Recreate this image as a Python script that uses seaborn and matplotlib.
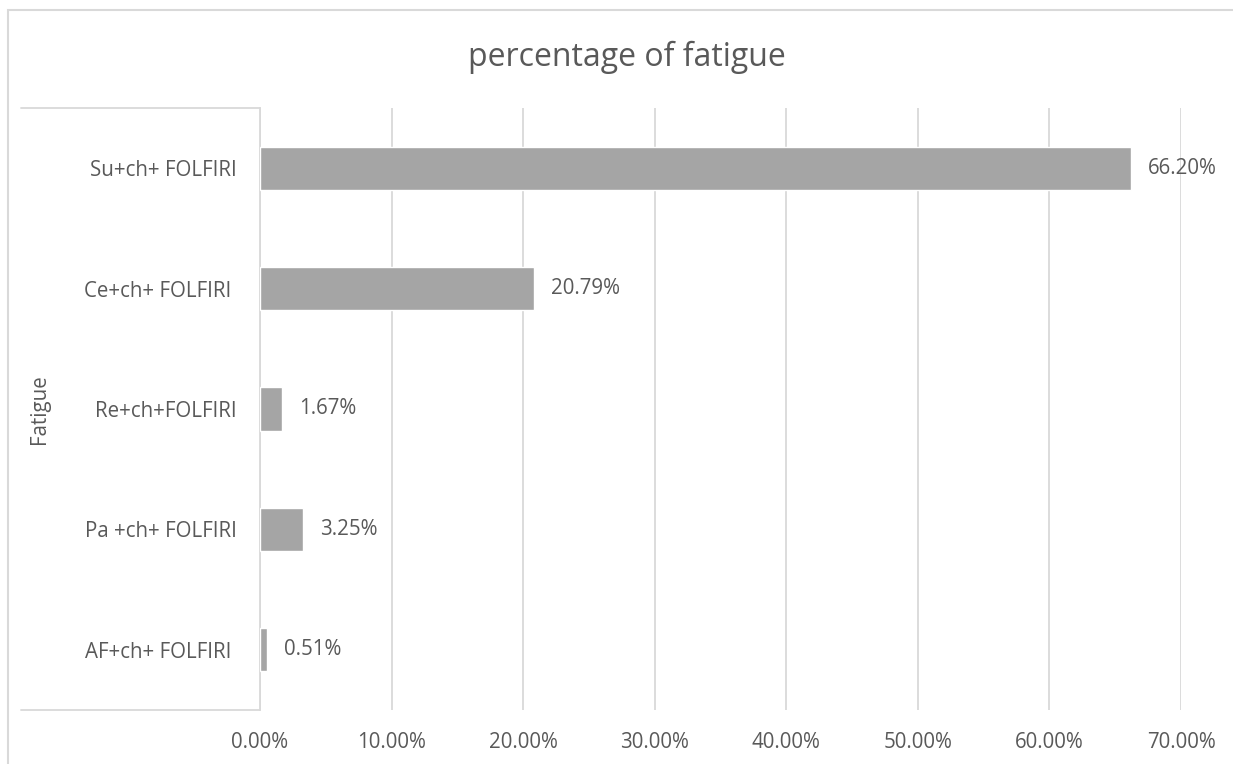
import matplotlib
matplotlib.use("Agg")
import matplotlib.pyplot as plt
from matplotlib.lines import Line2D
from matplotlib.patches import Rectangle
import seaborn as sns
import pandas as pd

# Chart data
regimens = ["Su+ch+ FOLFIRI", "Ce+ch+ FOLFIRI ", "Re+ch+FOLFIRI", "Pa +ch+ FOLFIRI", "AF+ch+ FOLFIRI "]
fatigue_pct = [66.20, 20.79, 1.67, 3.25, 0.51]
x_ticks = [0, 10, 20, 30, 40, 50, 60, 70]
x_tick_labels = ["0.00%", "10.00%", "20.00%", "30.00%", "40.00%", "50.00%", "60.00%", "70.00%"]

df = pd.DataFrame({"regimen": regimens, "pct": fatigue_pct})

sns.set_theme(style="white")
plt.rcParams["font.family"] = ["Open Sans", "DejaVu Sans"]

TEXT = "#595959"
GRID = "#D9D9D9"
BAR = "#A5A5A5"
FS = 14.8

W, H = 1233, 764
fig = plt.figure(figsize=(W / 100, H / 100), dpi=100)
ax_w = 1181 - 260
ax = fig.add_axes([260 / W, 1 - 710 / H, ax_w / W, (710 - 108) / H])

sns.barplot(data=df, x="pct", y="regimen", orient="h", color=BAR,
            saturation=1, width=0.36, ax=ax, zorder=3)

ax.set_xlim(0, 70)
ax.set_xticks(x_ticks)
ax.set_xticklabels(x_tick_labels)
ax.grid(axis="x", color=GRID, linewidth=1.3, zorder=0)
ax.tick_params(axis="x", length=0, pad=16, labelsize=FS, labelcolor=TEXT)
ax.tick_params(axis="y", length=0, pad=17, labelsize=FS, labelcolor=TEXT)
for side in ["top", "right", "bottom"]:
    ax.spines[side].set_visible(False)
ax.spines["left"].set_color(GRID)
ax.spines["left"].set_linewidth(1.3)

ax.set_xlabel("")
ax.set_ylabel("Fatigue", fontsize=FS, color=TEXT)
ax.yaxis.set_label_coords((50 - 260) / ax_w, 0.5)

# Value labels on bars
ax.bar_label(ax.containers[0], labels=[f"{v:.2f}%" for v in fatigue_pct],
             padding=12.5, fontsize=FS, color=TEXT)

# Title
fig.text(627 / W, 1 - 66 / H, "percentage of fatigue", ha="center", va="baseline",
         fontsize=23, color=TEXT)

# Category-axis box and chart border
fig.add_artist(Line2D([21 / W, 260 / W], [1 - 108 / H, 1 - 108 / H],
                      color=GRID, linewidth=1.3, transform=fig.transFigure))
fig.add_artist(Line2D([21 / W, 260 / W], [1 - 710 / H, 1 - 710 / H],
                      color=GRID, linewidth=1.3, transform=fig.transFigure))
fig.add_artist(Rectangle((8 / W, -0.1), 1.2, 1 - 10 / H + 0.1, fill=False,
                         edgecolor=GRID, linewidth=1.5, transform=fig.transFigure))

fig.savefig("out.png", dpi=100, facecolor="white")
